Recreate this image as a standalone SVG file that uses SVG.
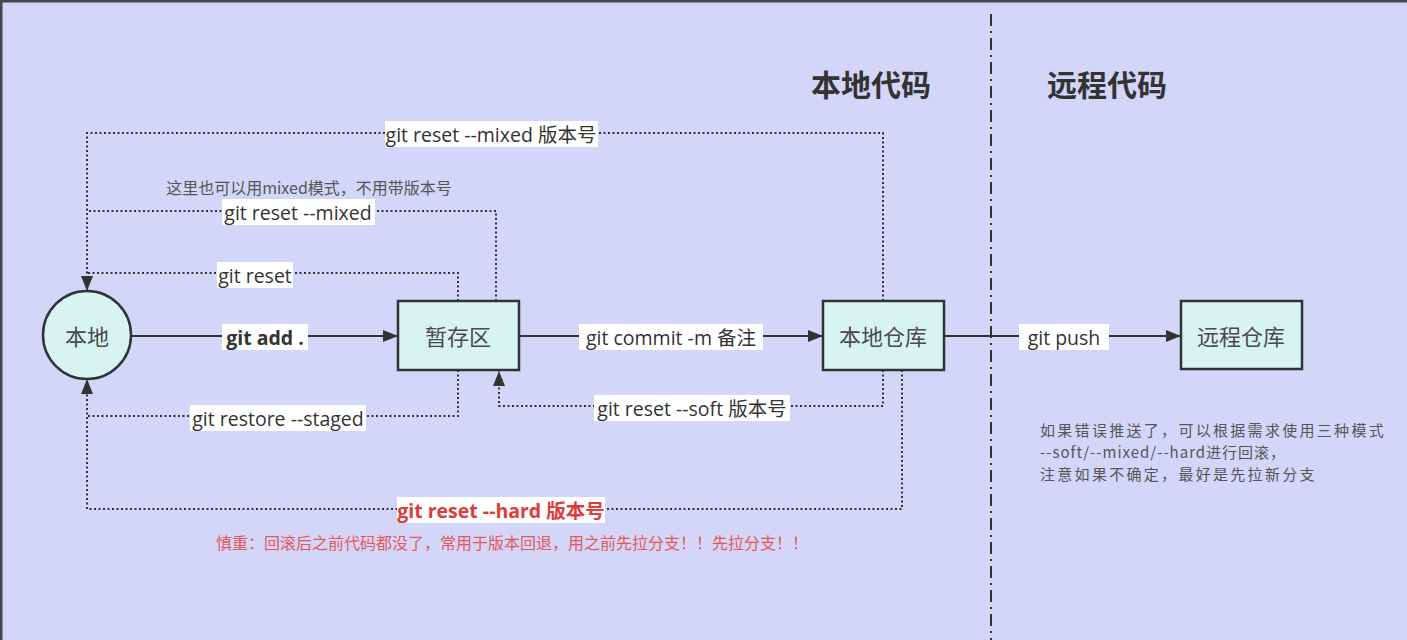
<svg xmlns="http://www.w3.org/2000/svg" width="1407" height="640" viewBox="0 0 1407 640">
<style>
.node{fill:#d8f4f1;stroke:#2f3437;stroke-width:2.5}
.nt{font-family:"Noto Sans CJK SC","Open Sans",sans-serif;font-size:22px;fill:#4a4a4a;text-anchor:middle;dominant-baseline:central}
.solid{fill:none;stroke:#333;stroke-width:2}
.dot{fill:none;stroke:#333;stroke-width:2;stroke-dasharray:2 2.5}
.lbg{fill:#ffffff}
.lt{font-family:"Open Sans","Noto Sans CJK SC",sans-serif;font-size:19.5px;fill:#333;text-anchor:middle;dominant-baseline:central}
.bold{font-weight:bold}
.red{fill:#e03b3b}
.note{font-family:"Noto Sans CJK SC","Open Sans",sans-serif;font-size:16px;fill:#555}
.title{font-family:"Noto Sans CJK SC",sans-serif;font-size:30px;font-weight:bold;fill:#333}
</style>
<defs>
<marker id="arr" markerUnits="userSpaceOnUse" markerWidth="16" markerHeight="12" refX="15" refY="6" orient="auto">
<path d="M0,0 L15,6 L0,12 Z" fill="#333"/>
</marker>
</defs>
<rect x="0" y="0" width="1407" height="640" fill="#d3d6f8"/>
<path d="M1,640 V1 H1407" fill="none" stroke="#45484f" stroke-width="3"/>
<line x1="991" y1="14" x2="991" y2="640" stroke="#333" stroke-width="2" stroke-dasharray="12 5 2 5"/>
<text class="title" x="871" y="83" text-anchor="middle" dominant-baseline="central">本地代码</text>
<text class="title" x="1107" y="83" text-anchor="middle" dominant-baseline="central">远程代码</text>

<g id="connectors">
<path class="solid" d="M131,336 H398" marker-end="url(#arr)"/>
<path class="solid" d="M519,336 H823" marker-end="url(#arr)"/>
<path class="solid" d="M944,336 H1181" marker-end="url(#arr)"/>
<path class="dot" d="M883,301 V133 H87 V291" marker-end="url(#arr)"/>
<path class="dot" d="M496,301 V211 H87"/>
<path class="dot" d="M458,301 V273 H87"/>
<path class="dot" d="M458,370 V416 H87 V379" marker-end="url(#arr)"/>
<path class="dot" d="M883,370 V406 H499 V371" marker-end="url(#arr)"/>
<path class="dot" d="M902,370 V509 H87 V416"/>

<rect class="lbg" x="222" y="324" width="86" height="26"/>
<text class="lt bold" x="265" y="337">git add .</text>
<rect class="lbg" x="579" y="324" width="184" height="26"/>
<text class="lt" x="671" y="337">git commit -m 备注</text>
<rect class="lbg" x="1019" y="324" width="90" height="26"/>
<text class="lt" x="1064" y="337">git push</text>
<rect class="lbg" x="385" y="121" width="213" height="26"/>
<text class="lt" x="491" y="134">git reset --mixed 版本号</text>
<rect class="lbg" x="222" y="199" width="153" height="26"/>
<text class="lt" x="298" y="212">git reset --mixed</text>
<rect class="lbg" x="217" y="262" width="76" height="26"/>
<text class="lt" x="255" y="275">git reset</text>
<rect class="lbg" x="190" y="405" width="176" height="26"/>
<text class="lt" x="278" y="418">git restore --staged</text>
<rect class="lbg" x="594" y="395" width="196" height="26"/>
<text class="lt" x="692" y="408">git reset --soft 版本号</text>
<rect class="lbg" x="397" y="497" width="208" height="26"/>
<text class="lt bold red" x="501" y="510">git reset --hard 版本号</text>
</g>

<text class="note" x="309" y="187" text-anchor="middle" dominant-baseline="central">这里也可以用mixed模式，不用带版本号</text>
<text class="note" x="512" y="542" text-anchor="middle" dominant-baseline="central" style="fill:#e65858">慎重：回滚后之前代码都没了，常用于版本回退，用之前先拉分支！！先拉分支！！</text>
<g class="note" style="font-size:15px;letter-spacing:2.3px">
<text x="1040" y="429" dominant-baseline="central">如果错误推送了，可以根据需求使用三种模式</text>
<text x="1040" y="451" dominant-baseline="central" style="letter-spacing:1px">--soft/--mixed/--hard进行回滚，</text>
<text x="1040" y="473" dominant-baseline="central">注意如果不确定，最好是先拉新分支</text>
</g>

<g id="node-local">
<circle class="node" cx="87" cy="335" r="44"/>
<text class="nt" x="87" y="335">本地</text>
</g>
<g id="node-stage">
<rect class="node" x="398" y="301" width="121" height="69"/>
<text class="nt" x="458" y="335">暂存区</text>
</g>
<g id="node-localrepo">
<rect class="node" x="823" y="301" width="121" height="69"/>
<text class="nt" x="883" y="335">本地仓库</text>
</g>
<g id="node-remote">
<rect class="node" x="1181" y="301" width="121" height="68"/>
<text class="nt" x="1241" y="335">远程仓库</text>
</g>
</svg>
